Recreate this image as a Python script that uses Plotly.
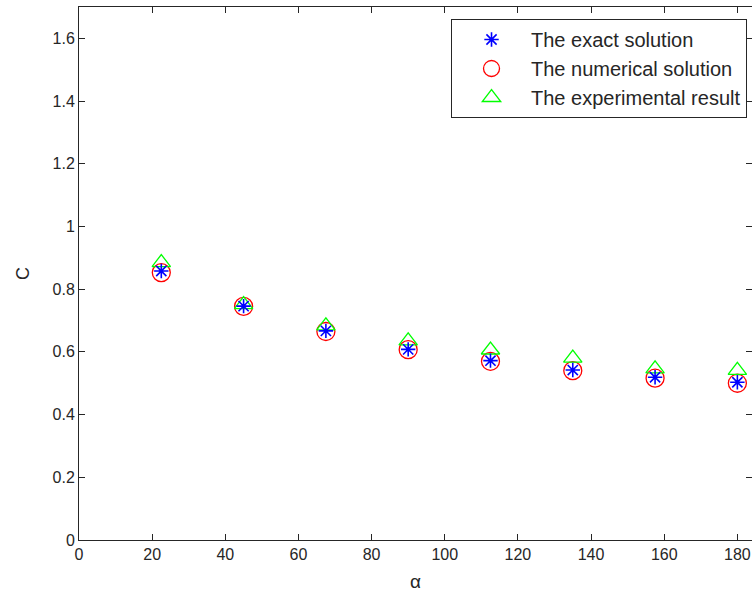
import plotly.graph_objects as go

alpha = [22.5, 45, 67.5, 90, 112.5, 135, 157.5, 180]
exact = [0.858, 0.746, 0.667, 0.608, 0.572, 0.542, 0.519, 0.503]
numerical = [0.853, 0.745, 0.665, 0.607, 0.570, 0.540, 0.516, 0.500]
experimental = [0.885, 0.751, 0.683, 0.635, 0.606, 0.580, 0.546, 0.541]

x_ticks = [0, 20, 40, 60, 80, 100, 120, 140, 160, 180]
y_ticks = [0, 0.2, 0.4, 0.6, 0.8, 1.0, 1.2, 1.4, 1.6]
y_labels = ["0", "0.2", "0.4", "0.6", "0.8", "1", "1.2", "1.4", "1.6"]

FONT = "Liberation Sans, Arial, sans-serif"

fig = go.Figure()
fig.add_trace(go.Scatter(
    x=alpha, y=numerical, mode="markers", name="The numerical solution",
    legendgroup="b", legendrank=2,
    marker=dict(symbol="circle-open", size=18, color="#ff0000", line=dict(width=1.3))))
fig.add_trace(go.Scatter(
    x=alpha, y=experimental, mode="markers", name="The experimental result",
    legendgroup="c", legendrank=3,
    marker=dict(symbol="triangle-up-open", size=16, color="#00ff00", line=dict(width=1.3))))
fig.add_trace(go.Scatter(
    x=alpha, y=exact, mode="markers", name="The exact solution",
    legendgroup="a", legendrank=1,
    marker=dict(symbol="asterisk-open", size=12, color="#0000ff", line=dict(width=1.6))))

axis_common = dict(
    showgrid=False, zeroline=False, showline=True, linecolor="#262626", linewidth=1,
    mirror="ticks", ticks="inside", ticklen=6, tickcolor="#262626", tickwidth=1,
    tickfont=dict(family=FONT, size=16, color="#262626"),
)

fig.update_layout(
    width=752, height=595,
    margin=dict(l=79, r=0, t=7, b=55),
    paper_bgcolor="white", plot_bgcolor="white",
    font=dict(family=FONT, color="#262626"),
    xaxis=dict(range=[0, 184], tickvals=x_ticks, ticktext=[str(v) for v in x_ticks],
               title=dict(text="α", font=dict(family=FONT, size=19), standoff=12),
               **axis_common),
    yaxis=dict(range=[0, 1.7], tickvals=y_ticks, ticktext=y_labels,
               title=dict(text="C", font=dict(family=FONT, size=18), standoff=18),
               **axis_common),
    legend=dict(
        x=0.9926, xanchor="right", y=0.9775, yanchor="top",
        bordercolor="#262626", borderwidth=1, bgcolor="white",
        font=dict(family=FONT, size=20, color="#262626"),
        tracegroupgap=0, itemwidth=69,
    ),
    showlegend=True,
)

fig.write_html("out.html")
